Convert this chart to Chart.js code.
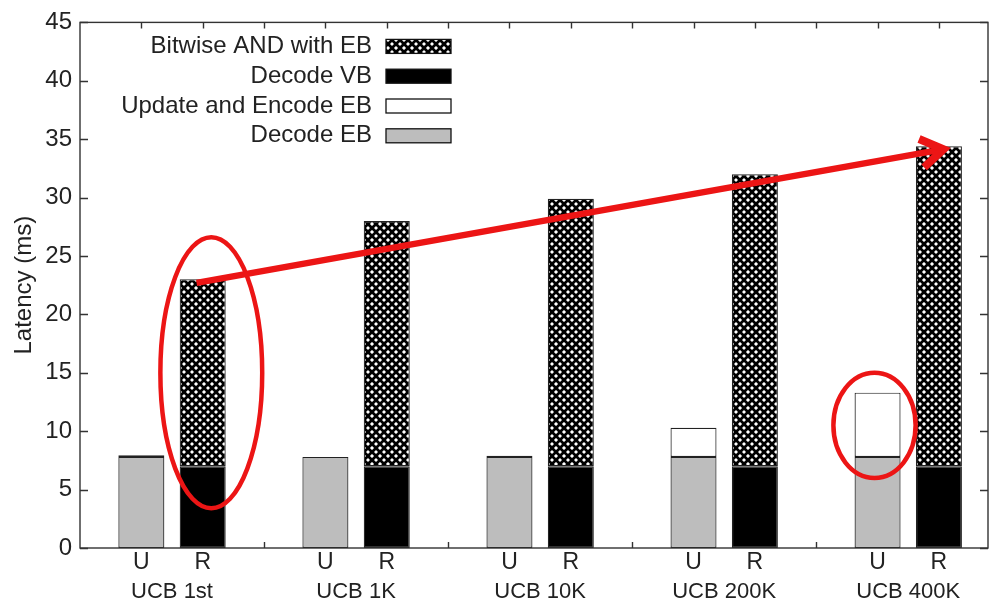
<!DOCTYPE html>
<html>
<head>
<meta charset="utf-8">
<script src="https://cdn.jsdelivr.net/npm/chart.js@4"></script>
<style>
  html, body { margin: 0; padding: 0; background: #fff; }
  #wrap { width: 998px; height: 604px; }
</style>
</head>
<body>
<div id="wrap"><canvas id="latencyChart"></canvas></div>
<script>
// DATA
const groups = ["UCB 1st", "UCB 1K", "UCB 10K", "UCB 200K", "UCB 400K"];
const barTags = ["U", "R"];
const decodeEB = [7.8, 7.8, 7.8, 7.8, 7.8];
const updateEncodeEB = [0.15, 0, 0.1, 2.5, 5.5];
const decodeVB = [7.0, 7.0, 7.0, 7.0, 7.0];
const bitwiseAND = [16.0, 21.0, 22.9, 25.0, 27.4];
const yTicks = [0, 5, 10, 15, 20, 25, 30, 35, 40, 45];

// red marks drawn on top (in data units)
const arrowLine = { from: [1.9, 22.7], to: [14.14, 34.2] };
const rings = [
    { x: 2.14, y: 15.0, rx: 0.83, ry: 11.6 },
    { x: 12.95, y: 10.5, rx: 0.67, ry: 4.5 },
];

const FONT = "'Liberation Sans', Arial, sans-serif";
const INK = "#222";
const RED = "#ec1515";

// each group takes 3 slots on the x axis: U, R, gap
const slotOf = (g, b) => g * 3 + b + 1;
const toPoints = (vals, b) => vals.map((v, g) => ({ x: slotOf(g, b), y: v }));
const barSlots = groups.flatMap((_, g) => barTags.map((_, b) => slotOf(g, b)));
const groupCenters = groups.map((_, g) => slotOf(g, 0) + 0.5);

function crossHatch() {
    const s = 8;
    const c = document.createElement("canvas");
    c.width = c.height = s;
    const g = c.getContext("2d");
    g.fillStyle = "#fff";
    g.fillRect(0, 0, s, s);
    g.strokeStyle = "#000";
    g.lineWidth = 2.7;
    for (const o of [-s, 0, s]) {
        g.beginPath(); g.moveTo(o, 0); g.lineTo(o + s, s); g.stroke();
        g.beginPath(); g.moveTo(o + s, 0); g.lineTo(o, s); g.stroke();
    }
    return g.createPattern(c, "repeat");
}

// frame, inward ticks, legend, red annotations
const gnuplotLook = {
    id: "gnuplotLook",
    afterDraw(chart) {
        const { ctx, chartArea: a, scales } = chart;
        const x = scales.x, y = scales.y;
        ctx.save();

        ctx.strokeStyle = "#333";
        ctx.lineWidth = 1.4;
        ctx.strokeRect(a.left, a.top, a.right - a.left, a.bottom - a.top);
        ctx.beginPath();
        y.ticks.forEach((t) => {
            const py = Math.round(y.getPixelForValue(t.value)) + 0.5;
            ctx.moveTo(a.left, py); ctx.lineTo(a.left + 8, py);
            ctx.moveTo(a.right, py); ctx.lineTo(a.right - 8, py);
        });
        for (let v = 1; v < x.max; v++) {
            const px = Math.round(x.getPixelForValue(v)) + 0.5;
            ctx.moveTo(px, a.top); ctx.lineTo(px, a.top + 6);
        }
        for (let g = 1; g < groups.length; g++) {
            const px = Math.round(x.getPixelForValue(g * 3)) + 0.5;
            ctx.moveTo(px, a.bottom); ctx.lineTo(px, a.bottom - 6);
        }
        ctx.stroke();

        // legend
        const items = chart.data.datasets.slice().reverse();
        ctx.font = "24px " + FONT;
        ctx.textAlign = "right";
        ctx.textBaseline = "middle";
        items.forEach((ds, i) => {
            const cy = a.top + 24 + i * 29.8;
            ctx.fillStyle = INK;
            ctx.fillText(ds.label, a.left + 292, cy);
            ctx.fillStyle = ds.backgroundColor;
            ctx.fillRect(a.left + 306, cy - 7, 65, 14);
            ctx.lineWidth = 1.3;
            ctx.strokeStyle = "#111";
            ctx.strokeRect(a.left + 306, cy - 7, 65, 14);
        });

        // red ellipses
        ctx.strokeStyle = RED;
        ctx.lineWidth = 4.5;
        rings.forEach((r) => {
            const cx = x.getPixelForValue(r.x), cy = y.getPixelForValue(r.y);
            const rx = x.getPixelForValue(r.x + r.rx) - cx;
            const ry = cy - y.getPixelForValue(r.y + r.ry);
            ctx.beginPath();
            ctx.ellipse(cx, cy, rx, ry, 0, 0, Math.PI * 2);
            ctx.stroke();
        });

        // red arrow
        const x0 = x.getPixelForValue(arrowLine.from[0]), y0 = y.getPixelForValue(arrowLine.from[1]);
        const x1 = x.getPixelForValue(arrowLine.to[0]), y1 = y.getPixelForValue(arrowLine.to[1]);
        const ang = Math.atan2(y1 - y0, x1 - x0);
        ctx.lineWidth = 6.5;
        ctx.lineCap = "butt";
        ctx.beginPath();
        ctx.moveTo(x0, y0);
        ctx.lineTo(x1 - 5 * Math.cos(ang), y1 - 5 * Math.sin(ang));
        ctx.stroke();
        ctx.lineWidth = 8;
        ctx.lineJoin = "miter";
        ctx.beginPath();
        const head = 30, spread = 0.5;
        ctx.moveTo(x1 - head * Math.cos(ang - spread), y1 - head * Math.sin(ang - spread));
        ctx.lineTo(x1 - 4 * Math.cos(ang), y1 - 4 * Math.sin(ang));
        ctx.lineTo(x1 - head * Math.cos(ang + spread), y1 - head * Math.sin(ang + spread));
        ctx.stroke();

        ctx.restore();
    },
};

const latencyChart = new Chart(document.getElementById("latencyChart"), {
    type: "bar",
    data: {
        datasets: [
            { label: "Decode EB", data: toPoints(decodeEB, 0), backgroundColor: "#bdbdbd" },
            { label: "Update and Encode EB", data: toPoints(updateEncodeEB, 0), backgroundColor: "#ffffff" },
            { label: "Decode VB", data: toPoints(decodeVB, 1), backgroundColor: "#000000" },
            { label: "Bitwise AND with EB", data: toPoints(bitwiseAND, 1), backgroundColor: crossHatch() },
        ].map((ds) => ({
            ...ds,
            borderColor: "#222",
            borderWidth: 1.2,
            borderSkipped: false,
            barPercentage: 0.75,
            categoryPercentage: 1,
        })),
    },
    options: {
        responsive: true,
        maintainAspectRatio: false,
        animation: false,
        layout: { padding: { top: 20, right: 10, bottom: 0, left: 0 } },
        scales: {
            x: {
                type: "linear",
                min: 0,
                max: 14.8,
                stacked: true,
                offset: false,
                weight: 0,
                grid: { display: false, drawTicks: false },
                border: { display: false },
                afterBuildTicks: (axis) => { axis.ticks = barSlots.map((v) => ({ value: v })); },
                afterFit: (axis) => { axis.height = 30; },
                ticks: {
                    autoSkip: false,
                    maxRotation: 0,
                    padding: 1,
                    color: INK,
                    font: { family: FONT, size: 23 },
                    callback: (v) => barTags[(v - 1) % 3],
                },
            },
            x2: {
                type: "linear",
                axis: "x",
                position: "bottom",
                min: 0,
                max: 14.8,
                offset: false,
                weight: 1,
                grid: { display: false, drawTicks: false },
                border: { display: false },
                afterBuildTicks: (axis) => { axis.ticks = groupCenters.map((v) => ({ value: v })); },
                afterFit: (axis) => { axis.height = 26; },
                ticks: {
                    autoSkip: false,
                    maxRotation: 0,
                    padding: 1,
                    color: INK,
                    font: { family: FONT, size: 22 },
                    callback: (v) => groups[Math.round(v - 1.5) / 3],
                },
            },
            y: {
                stacked: true,
                min: yTicks[0],
                max: yTicks[yTicks.length - 1],
                grid: { display: false, drawTicks: false },
                border: { display: false },
                afterFit: (axis) => { axis.width = 80; },
                ticks: {
                    stepSize: yTicks[1] - yTicks[0],
                    padding: 8,
                    color: INK,
                    font: { family: FONT, size: 24 },
                },
                title: {
                    display: true,
                    text: "Latency (ms)",
                    color: INK,
                    font: { family: FONT, size: 24 },
                    padding: { top: 10, bottom: 0 },
                },
            },
        },
        plugins: {
            legend: { display: false },
            tooltip: { enabled: false },
        },
    },
    plugins: [gnuplotLook],
});
</script>
</body>
</html>
